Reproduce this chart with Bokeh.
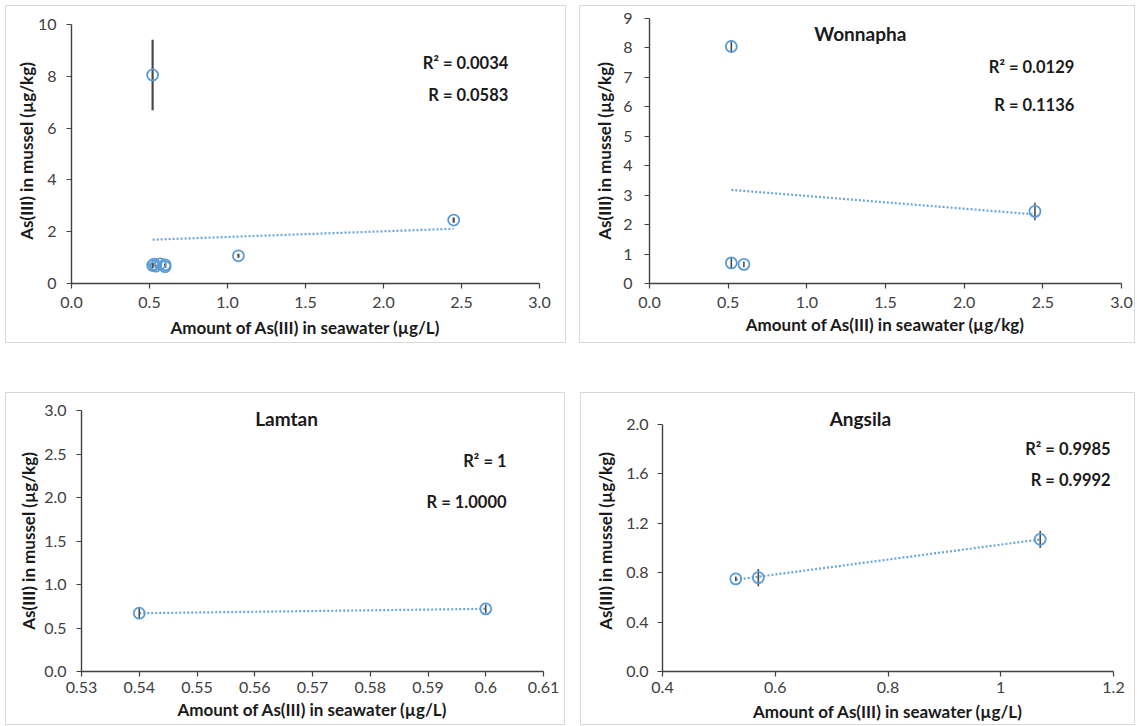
import numpy as np
from bokeh.plotting import figure
from bokeh.models import Range1d, FixedTicker, Label, Spacer
from bokeh.layouts import row, column
from bokeh.embed import file_html
from bokeh.resources import INLINE

# ---------------- data ----------------
# All sites
all_x = [0.52, 0.52, 0.60, 2.45, 0.54, 0.60, 0.53, 0.57, 1.07]
all_y = [8.05, 0.70, 0.65, 2.45, 0.67, 0.72, 0.75, 0.76, 1.07]
all_err = [1.36, 0.10, 0.05, 0.10, 0.05, 0.05, 0.02, 0.06, 0.08]
all_r2 = "R\u00b2 = 0.0034"
all_r = "R = 0.0583"

# Wonnapha
won_x = [0.52, 0.52, 0.60, 2.45]
won_y = [8.05, 0.70, 0.65, 2.45]
won_err = [0.22, 0.20, 0.10, 0.30]
won_r2 = "R\u00b2 = 0.0129"
won_r = "R = 0.1136"

# Lamtan
lam_x = [0.54, 0.60]
lam_y = [0.67, 0.72]
lam_err = [0.06, 0.05]
lam_r2 = "R\u00b2 = 1"
lam_r = "R = 1.0000"

# Angsila
ang_x = [0.53, 0.57, 1.07]
ang_y = [0.75, 0.76, 1.07]
ang_err = [0.02, 0.07, 0.07]
ang_r2 = "R\u00b2 = 0.9985"
ang_r = "R = 0.9992"

# tick labels
x_ticks_wide = [0.0, 0.5, 1.0, 1.5, 2.0, 2.5, 3.0]
x_labels_wide = ["0.0", "0.5", "1.0", "1.5", "2.0", "2.5", "3.0"]
y_ticks_all = [0, 2, 4, 6, 8, 10]
y_labels_all = ["0", "2", "4", "6", "8", "10"]
y_ticks_won = [0, 1, 2, 3, 4, 5, 6, 7, 8, 9]
y_labels_won = ["0", "1", "2", "3", "4", "5", "6", "7", "8", "9"]
x_ticks_lam = [0.53, 0.54, 0.55, 0.56, 0.57, 0.58, 0.59, 0.60, 0.61]
x_labels_lam = ["0.53", "0.54", "0.55", "0.56", "0.57", "0.58", "0.59", "0.6", "0.61"]
y_ticks_lam = [0.0, 0.5, 1.0, 1.5, 2.0, 2.5, 3.0]
y_labels_lam = ["0.0", "0.5", "1.0", "1.5", "2.0", "2.5", "3.0"]
x_ticks_ang = [0.4, 0.6, 0.8, 1.0, 1.2]
x_labels_ang = ["0.4", "0.6", "0.8", "1", "1.2"]
y_ticks_ang = [0.0, 0.4, 0.8, 1.2, 1.6, 2.0]
y_labels_ang = ["0.0", "0.4", "0.8", "1.2", "1.6", "2.0"]

XLAB_L = "Amount of As(III) in seawater (\u00b5g/L)"
XLAB_KG = "Amount of As(III) in seawater (\u00b5g/kg)"
YLAB = "As(III) in mussel (\u00b5g/kg)"

FONT = "Lato"
BLUE = "#5b9bd5"
AXIS = "#404040"
ERR = "#4a4a4a"


def make_panel(w, h, mb, xr, yr, ybounds, xt, xl, yt, yl, xlabel, x, y, err,
               err_width=1.6, xstand=(8, 6), ystand=(10, 0)):
    p = figure(width=w, height=h, output_backend="svg", toolbar_location=None,
               x_range=Range1d(*xr), y_range=Range1d(*yr),
               min_border_left=mb[0], min_border_right=mb[1],
               min_border_top=mb[2], min_border_bottom=mb[3],
               styles={"border": "1px solid #d9d9d9", "box-sizing": "border-box"})
    p.outline_line_color = None
    p.xgrid.visible = False
    p.ygrid.visible = False
    p.background_fill_color = "white"
    p.border_fill_color = "white"
    for ax, ticks, labels in ((p.xaxis[0], xt, xl), (p.yaxis[0], yt, yl)):
        ax.ticker = FixedTicker(ticks=ticks)
        ax.major_label_overrides = {t: s for t, s in zip(ticks, labels)}
        ax.minor_tick_line_color = None
        ax.axis_line_color = AXIS
        ax.axis_line_width = 1.4
        ax.major_tick_line_color = AXIS
        ax.major_tick_line_width = 1.2
        ax.major_tick_out = 5
        ax.major_tick_in = 0
        ax.major_label_text_font = FONT
        ax.major_label_text_font_size = "16px"
        ax.major_label_text_color = "#404040"
        ax.axis_label_text_font = FONT
        ax.axis_label_text_font_style = "bold"
        ax.axis_label_text_font_size = "17px"
        ax.axis_label_text_color = "#1a1a1a"
    p.yaxis.bounds = ybounds
    p.xaxis.axis_label = xlabel
    p.yaxis.axis_label = YLAB
    p.xaxis.major_label_standoff = int(xstand[0])
    p.xaxis.axis_label_standoff = int(xstand[1])
    p.yaxis.major_label_standoff = int(ystand[0])
    p.yaxis.axis_label_standoff = int(ystand[1])

    # trend line (least squares fit of the data)
    xa = np.array(x)
    ya = np.array(y)
    k, b = np.polyfit(xa, ya, 1)
    tx = np.array([xa.min(), xa.max()])
    p.line(tx, k * tx + b, line_color=BLUE, line_width=2.2, line_dash="2 2", line_alpha=0.9)

    # error bars
    lo = [a - e for a, e in zip(y, err)]
    hi = [a + e for a, e in zip(y, err)]
    p.segment(x0=x, y0=lo, x1=x, y1=hi, line_color=ERR, line_width=err_width)

    # points
    p.scatter(x, y, marker="circle", size=11, fill_alpha=0,
              line_color=BLUE, line_width=1.8)
    return p


def add_text(p, x, y, text, size="16.5px", align="right"):
    p.add_layout(Label(x=x, y=y, text=text, text_align=align, text_baseline="middle",
                       text_font=FONT, text_font_style="bold", text_font_size=size,
                       text_color="#1a1a1a"))


# Panel 1: all sites  (frame shares top/bottom with panel 2; axis bounded to 0-10)
p1 = make_panel(561, 338, (65, 28, 12, 61), (0, 3), (0, 10.23), (0, 10),
                x_ticks_wide, x_labels_wide, y_ticks_all, y_labels_all, XLAB_L,
                all_x, all_y, all_err, err_width=2.2,
                xstand=(8, 6), ystand=(10, -2))
add_text(p1, 2.80, 8.53, all_r2)
add_text(p1, 2.80, 7.26, all_r)

# Panel 2: Wonnapha
p2 = make_panel(556, 338, (69, 15, 12, 61), (0, 3), (0, 9), (0, 9),
                x_ticks_wide, x_labels_wide, y_ticks_won, y_labels_won, XLAB_KG,
                won_x, won_y, won_err, xstand=(8, 3), ystand=(12, 5))
add_text(p2, 1.34, 8.49, "Wonnapha", size="19px", align="center")
add_text(p2, 2.70, 7.34, won_r2)
add_text(p2, 2.70, 6.05, won_r)

# Panel 3: Lamtan
p3 = make_panel(560, 333, (75, 23, 17, 55), (0.53, 0.61), (0, 3), (0, 3),
                x_ticks_lam, x_labels_lam, y_ticks_lam, y_labels_lam, XLAB_L,
                lam_x, lam_y, lam_err, xstand=(5, 3), ystand=(10, 2))
add_text(p3, 0.5655, 2.907, "Lamtan", size="19px", align="center")
add_text(p3, 0.6036, 2.419, lam_r2)
add_text(p3, 0.6036, 1.953, lam_r)

# Panel 4: Angsila (frame shares top with panel 3; axis bounded to 0-2)
p4 = make_panel(555, 333, (81, 23, 17, 55), (0.4, 1.2), (0, 2.113), (0, 2),
                x_ticks_ang, x_labels_ang, y_ticks_ang, y_labels_ang, XLAB_L,
                ang_x, ang_y, ang_err, xstand=(5, 5), ystand=(9, 7))
add_text(p4, 0.751, 2.049, "Angsila", size="19px", align="center")
add_text(p4, 1.195, 1.798, ang_r2)
add_text(p4, 1.195, 1.547, ang_r)

layout = column(
    Spacer(height=5),
    row(Spacer(width=5), p1, Spacer(width=13), p2),
    Spacer(height=49),
    row(Spacer(width=5), p3, Spacer(width=15), p4),
)

open("out.html", "w").write(file_html(layout, INLINE))
